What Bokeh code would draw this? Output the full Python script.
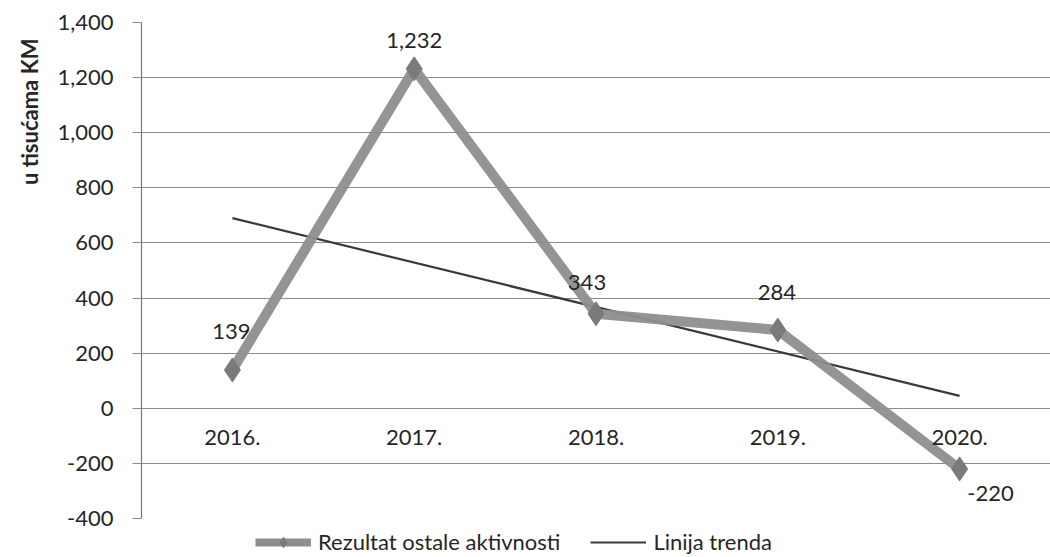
from bokeh.plotting import figure
from bokeh.layouts import column
from bokeh.models import (ColumnDataSource, NumeralTickFormatter, FixedTicker,
                          Legend, LegendItem, Range1d, FactorRange, Title)
from bokeh.core.properties import value
from bokeh.embed import file_html
from bokeh.resources import INLINE

# ---- data ----
years = ["2016.", "2017.", "2018.", "2019.", "2020."]
result = [139, 1232, 343, 284, -220]
result_labels = ["139", "1,232", "343", "284", "-220"]
trend_years = ["2016.", "2020."]
trend_values = [690, 45]
y_ticks = [-400, -200, 0, 200, 400, 600, 800, 1000, 1200, 1400]

series_name = "Rezultat ostale aktivnosti"
trend_name = "Linija trenda"
y_title = "u tisućama KM"

FONT = "Lato"
TXT = "#262626"
GRID = "#8c8c8c"
SERIES = "#8e8e8e"
MARK = "#7a7a7a"
TREND = "#3a3a3a"
NAN = float("nan")

p = figure(width=1050, height=528,
           x_range=FactorRange(factors=years, range_padding=0),
           y_range=Range1d(-400, 1400),
           output_backend="svg", toolbar_location=None,
           min_border_left=141, min_border_top=22,
           min_border_right=0, min_border_bottom=10)

p.outline_line_color = None
p.background_fill_color = "white"
p.border_fill_color = "white"

# axes
p.xaxis.visible = False
p.xgrid.visible = False
yax = p.yaxis[0]
yax.ticker = FixedTicker(ticks=y_ticks)
yax.formatter = NumeralTickFormatter(format="0,0")
yax.axis_line_color = "#777777"
yax.axis_line_width = 1.2
yax.major_tick_out = 9
yax.major_tick_in = 0
yax.major_tick_line_color = GRID
yax.minor_tick_line_color = None
yax.major_label_standoff = 19
yax.major_label_text_font = FONT
yax.major_label_text_font_size = "22px"
yax.major_label_text_color = TXT

ttl = Title(text=y_title, align="right", text_font=FONT, text_font_size="22px",
            text_font_style="bold", text_color=TXT)
try:
    ttl.offset = 16
except AttributeError:
    pass
try:
    ttl.standoff = 24
except AttributeError:
    pass
p.add_layout(ttl, "left")

p.ygrid.ticker = FixedTicker(ticks=y_ticks)
p.ygrid.grid_line_color = GRID
p.ygrid.grid_line_width = 1.2

# trend line
p.line(x=trend_years, y=trend_values, line_color=TREND, line_width=2.2)

# series
src = ColumnDataSource(dict(x=years, y=result, lab=result_labels,
                            xo=[-1, 0, -9, -1, 31], yo=[-38, -28, -31, -38, 25]))
p.line(x="x", y="y", source=src, line_color=SERIES, line_width=10, line_alpha=0.95)
p.scatter(x="x", y="y", source=src, marker="diamond", size=24,
          fill_color=MARK, line_color=MARK)

# data labels
p.text(x="x", y="y", text="lab", source=src, x_offset="xo", y_offset="yo",
       text_font=value(FONT), text_font_size="22px", text_color=TXT,
       text_align="center", text_baseline="middle")

# category labels placed at the zero line (Excel style)
p.text(x=years, y=[0] * len(years), text=years, y_offset=29,
       text_font=value(FONT), text_font_size="22px", text_color=TXT,
       text_align="center", text_baseline="middle")

# ---- legend strip below the chart (frame is aligned with the chart frame) ----
lf = figure(width=1050, height=29, x_range=Range1d(0, 1), y_range=Range1d(0, 1),
            x_axis_type=None, y_axis_type=None, output_backend="svg",
            toolbar_location=None, min_border=0)
lf.outline_line_color = None
lf.grid.visible = False
# NaN-only renderers: nothing drawn in the strip, but styles exist for the legend glyphs
leg_line = lf.line(x=[NAN, NAN], y=[NAN, NAN], line_color=SERIES, line_width=8)
leg_mark = lf.scatter(x=[NAN], y=[NAN], marker="diamond", size=14,
                      fill_color=MARK, line_color=MARK)
leg_trend = lf.line(x=[NAN, NAN], y=[NAN, NAN], line_color=TREND, line_width=2)

legend = Legend(items=[LegendItem(label=series_name, renderers=[leg_line, leg_mark]),
                       LegendItem(label=trend_name, renderers=[leg_trend])],
                orientation="horizontal", location=(114, 2))
legend.label_text_font = FONT
legend.label_text_font_size = "22px"
legend.label_text_color = TXT
legend.glyph_width = 56
legend.glyph_height = 26
legend.label_height = 26
legend.label_standoff = 7
legend.spacing = 30
legend.padding = 0
legend.margin = 0
legend.border_line_color = None
legend.background_fill_alpha = 0
lf.add_layout(legend, "center")

layout = column(p, lf, spacing=0)
open("out.html", "w").write(file_html(layout, INLINE))
